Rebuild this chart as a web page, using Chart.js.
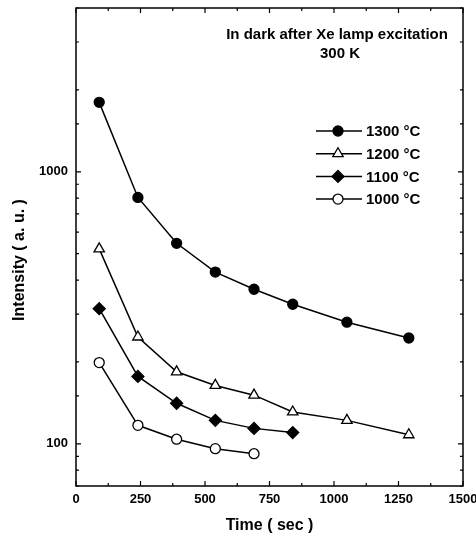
<!DOCTYPE html>
<html>
<head>
<meta charset="utf-8">
<script src="https://cdn.jsdelivr.net/npm/chart.js@4.4.1/dist/chart.umd.min.js"></script>
<style>
  html, body { margin: 0; padding: 0; background: #fff; }
  #wrap { width: 476px; height: 537px; }
</style>
</head>
<body>
<div id="wrap"><canvas id="decayChart" width="476" height="537"></canvas></div>
<script>
// values (time in sec, intensity in a.u.)
const series = ['1300 °C', '1200 °C', '1100 °C', '1000 °C'];
const times1300 = [90, 240, 390, 540, 690, 840, 1050, 1290];
const int1300 = [1800, 805, 546, 428, 370, 326, 280, 245];
const times1200 = [90, 240, 390, 540, 690, 840, 1050, 1290];
const int1200 = [521, 247, 184, 164, 151, 131, 122, 108];
const times1100 = [90, 240, 390, 540, 690, 840];
const int1100 = [314, 177, 141, 122, 114, 110];
const times1000 = [90, 240, 390, 540, 690];
const int1000 = [199, 117, 104, 96, 92];
const xTicks = [0, 250, 500, 750, 1000, 1250, 1500];
const yLabelled = [100, 1000];
const note = ['In dark after Xe lamp excitation', '300 K'];
const yTitle = 'Intensity ( a. u. )';

const FONT = '"Liberation Sans", Arial, sans-serif';

function pts(xs, ys) {
    return xs.map((x, i) => ({ x: x, y: ys[i] }));
}

const styles = [
    { pointStyle: 'circle', radius: 5, fill: '#000' },
    { pointStyle: 'triangle', radius: 6, fill: '#fff' },
    { pointStyle: 'rectRot', radius: 6, fill: '#000' },
    { pointStyle: 'circle', radius: 5, fill: '#fff' }
];
const allData = [pts(times1300, int1300), pts(times1200, int1200), pts(times1100, int1100), pts(times1000, int1000)];

const datasets = series.map((name, i) => ({
    label: name,
    data: allData[i],
    showLine: true,
    borderColor: '#000',
    borderWidth: 1.5,
    pointStyle: styles[i].pointStyle,
    pointRadius: styles[i].radius,
    pointBackgroundColor: styles[i].fill,
    pointBorderColor: '#000',
    pointBorderWidth: 1.3,
    tension: 0
}));

// frame, inward ticks, legend, y title and the note
const decorations = {
    id: 'decorations',
    afterDraw(chart) {
        const ctx = chart.ctx;
        const a = chart.chartArea;
        const xs = chart.scales.x, ys = chart.scales.y;
        ctx.save();
        ctx.strokeStyle = '#000';
        ctx.lineWidth = 1.5;
        ctx.strokeRect(a.left, a.top, a.right - a.left, a.bottom - a.top);

        ctx.lineWidth = 1.2;
        ctx.beginPath();
        for (let v = 0; v <= 1500; v += 125) {
            const px = xs.getPixelForValue(v);
            const len = v % 250 === 0 ? 5 : 3;
            ctx.moveTo(px, a.bottom); ctx.lineTo(px, a.bottom - len);
            ctx.moveTo(px, a.top); ctx.lineTo(px, a.top + len);
        }
        ys.ticks.forEach(t => {
            const py = ys.getPixelForValue(t.value);
            const len = yLabelled.includes(t.value) ? 5 : 3;
            ctx.moveTo(a.left, py); ctx.lineTo(a.left + len, py);
            ctx.moveTo(a.right, py); ctx.lineTo(a.right - len, py);
        });
        ctx.stroke();

        ctx.fillStyle = '#000';
        ctx.textBaseline = 'middle';

        // y title
        ctx.save();
        ctx.translate(20, 260);
        ctx.rotate(-Math.PI / 2);
        ctx.font = 'bold 16px ' + FONT;
        ctx.textAlign = 'center';
        ctx.fillText(yTitle, 0, 0);
        ctx.restore();

        // note
        ctx.font = 'bold 15px ' + FONT;
        ctx.textAlign = 'center';
        ctx.fillText(note[0], 337, 35);
        ctx.fillText(note[1], 340, 54);

        // legend
        chart.data.datasets.forEach((ds, i) => {
            const y = 131 + i * 22.7;
            ctx.lineWidth = 1.5;
            ctx.beginPath();
            ctx.moveTo(316, y); ctx.lineTo(362, y);
            ctx.stroke();
            const r = ds.pointRadius;
            ctx.beginPath();
            if (ds.pointStyle === 'circle') {
                ctx.arc(338, y, r, 0, Math.PI * 2);
            } else if (ds.pointStyle === 'triangle') {
                for (let k = 0; k < 3; k++) {
                    const ang = -Math.PI / 2 + k * 2 * Math.PI / 3;
                    const px = 338 + r * Math.cos(ang), py = y + r * Math.sin(ang);
                    if (k === 0) ctx.moveTo(px, py); else ctx.lineTo(px, py);
                }
                ctx.closePath();
            } else {
                ctx.moveTo(338, y - r); ctx.lineTo(338 + r, y);
                ctx.lineTo(338, y + r); ctx.lineTo(338 - r, y);
                ctx.closePath();
            }
            ctx.fillStyle = ds.pointBackgroundColor;
            ctx.fill();
            ctx.lineWidth = 1.3;
            ctx.stroke();
            ctx.fillStyle = '#000';
            ctx.textAlign = 'left';
            ctx.fillText(ds.label, 366, y + 1);
        });
        ctx.restore();
    }
};

const ctx = document.getElementById('decayChart').getContext('2d');
new Chart(ctx, {
    type: 'scatter',
    data: { datasets: datasets },
    options: {
        responsive: false,
        animation: false,
        layout: { padding: { top: 8, right: 13, left: 0, bottom: 0 } },
        plugins: {
            legend: { display: false },
            tooltip: { enabled: false }
        },
        scales: {
            x: {
                type: 'linear',
                min: 0,
                max: 1500,
                afterFit(scale) {
                    scale.height = 51;
                    scale.paddingLeft = 0;
                    scale.paddingRight = 0;
                },
                afterBuildTicks(scale) { scale.ticks = xTicks.map(v => ({ value: v })); },
                grid: { display: false, drawTicks: false },
                border: { display: false },
                ticks: {
                    padding: 6,
                    color: '#000',
                    font: { family: FONT, size: 13, weight: 'bold' },
                    maxRotation: 0,
                    callback: v => String(v)
                },
                title: {
                    display: true,
                    text: 'Time ( sec )',
                    color: '#000',
                    font: { family: FONT, size: 16, weight: 'bold' },
                    padding: { top: 0, bottom: 2 }
                }
            },
            y: {
                type: 'logarithmic',
                min: 70,
                max: 4000,
                afterFit(scale) {
                    scale.width = 76;
                    scale.paddingTop = 0;
                    scale.paddingBottom = 0;
                },
                grid: { display: false, drawTicks: false },
                border: { display: false },
                ticks: {
                    padding: 8,
                    color: '#000',
                    autoSkip: false,
                    font: { family: FONT, size: 13, weight: 'bold' },
                    callback: v => yLabelled.includes(v) ? String(v) : ''
                }
            }
        }
    },
    plugins: [decorations]
});
</script>
</body>
</html>
